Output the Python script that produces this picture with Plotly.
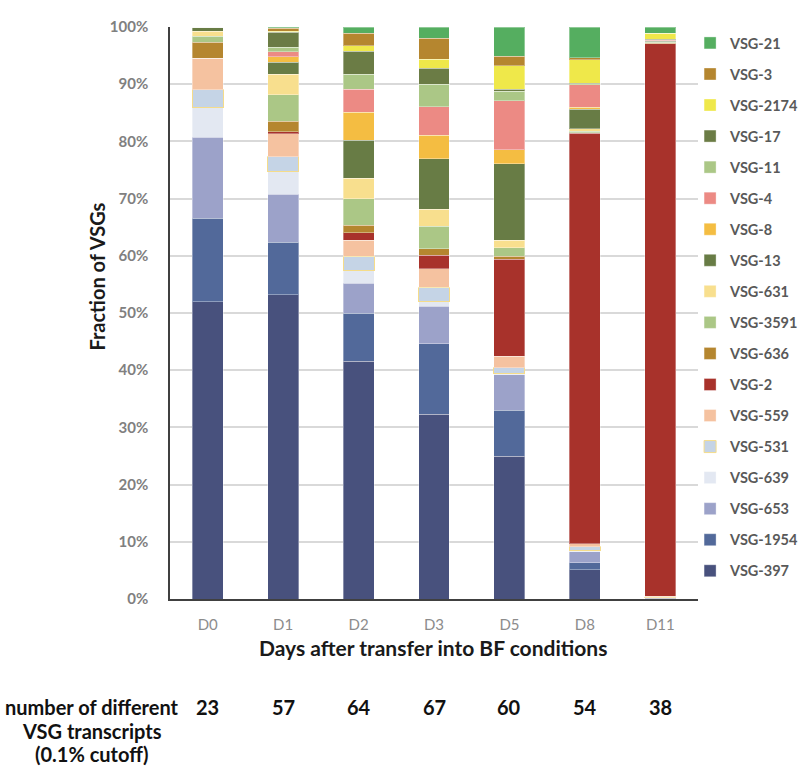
import plotly.graph_objects as go

days = ["D0", "D1", "D2", "D3", "D5", "D8", "D11"]
n_transcripts = [23, 57, 64, 67, 60, 54, 38]
count_label = ["number of different", "VSG transcripts", "(0.1% cutoff)"]

# stacked bottom -> top
vsg_397  = [52.0, 53.2, 41.6, 32.3, 25.0, 5.1, 0.1]
vsg_1954 = [14.6, 9.2, 8.4, 12.3, 8.0, 1.2, 0.0]
vsg_653  = [14.1, 8.4, 5.2, 6.6, 6.2, 2.0, 0.1]
vsg_639  = [5.3, 3.9, 2.3, 0.8, 0.3, 0.1, 0.0]
vsg_531  = [3.0, 2.6, 2.4, 2.5, 0.9, 0.7, 0.1]
vsg_559  = [5.5, 4.0, 2.8, 3.2, 2.0, 0.6, 0.2]
vsg_2    = [0.0, 0.4, 1.3, 2.4, 17.0, 71.7, 96.6]
vsg_636  = [2.8, 1.8, 1.3, 1.1, 0.5, 0.1, 0.1]
vsg_3591 = [1.1, 4.7, 4.7, 4.0, 1.5, 0.3, 0.1]
vsg_631  = [0.9, 3.5, 3.6, 2.9, 1.3, 0.4, 0.1]
vsg_13   = [0.7, 2.1, 6.6, 8.9, 13.4, 3.4, 0.1]
vsg_8    = [0.0, 1.0, 4.9, 4.1, 2.4, 0.4, 0.1]
vsg_4    = [0.0, 0.9, 4.0, 5.0, 8.6, 3.9, 0.1]
vsg_11   = [0.0, 0.8, 2.6, 3.9, 1.7, 0.2, 0.1]
vsg_17   = [0.0, 2.6, 4.1, 2.8, 0.3, 0.1, 0.1]
vsg_2174 = [0.0, 0.2, 0.9, 1.6, 4.1, 4.1, 1.0]
vsg_3    = [0.0, 0.5, 2.2, 3.6, 1.7, 0.3, 0.0]
vsg_21   = [0.0, 0.2, 1.1, 2.0, 5.1, 5.4, 1.1]

series = [
    ("VSG-397", vsg_397, "#48517d"),
    ("VSG-1954", vsg_1954, "#52699a"),
    ("VSG-653", vsg_653, "#9ca2c9"),
    ("VSG-639", vsg_639, "#e3e8f2"),
    ("VSG-531", vsg_531, "#c5d4e6"),
    ("VSG-559", vsg_559, "#f5c2a0"),
    ("VSG-2", vsg_2, "#a8322b"),
    ("VSG-636", vsg_636, "#b5862f"),
    ("VSG-3591", vsg_3591, "#abc786"),
    ("VSG-631", vsg_631, "#f8df8e"),
    ("VSG-13", vsg_13, "#687c45"),
    ("VSG-8", vsg_8, "#f4bd42"),
    ("VSG-4", vsg_4, "#ec8a84"),
    ("VSG-11", vsg_11, "#abc786"),
    ("VSG-17", vsg_17, "#6b7c45"),
    ("VSG-2174", vsg_2174, "#efe84a"),
    ("VSG-3", vsg_3, "#b5862f"),
    ("VSG-21", vsg_21, "#55ae60"),
]

FONT = "Lato"

fig = go.Figure()
n_series = len(series)
for i, (name, vals, col) in enumerate(series):
    line_col = "#f5dc8a" if name == "VSG-531" else "rgba(255,255,255,0.35)"
    fig.add_trace(go.Bar(
        x=days, y=vals, name=name, legendgroup=name,
        legendrank=100 + (n_series - i),
        marker=dict(color=col, line=dict(color=line_col, width=1)),
    ))

fig.update_layout(
    width=800, height=766,
    barmode="stack", bargap=0.59,
    plot_bgcolor="white", paper_bgcolor="white",
    margin=dict(l=170, r=102, t=27, b=167, autoexpand=False),
    font=dict(family=FONT, size=14, color="#7f7f7f"),
    showlegend=True,
    legend=dict(
        traceorder="grouped", tracegroupgap=9.2,
        x=0.985, xanchor="left", y=1.0, yanchor="top",
        bgcolor="rgba(0,0,0,0)", maxheight=740,
        font=dict(family=FONT, size=14.5, color="#595959", weight="bold"),
        itemclick=False,
    ),
    xaxis=dict(
        showline=True, linecolor="#404040", linewidth=1.5,
        ticks="", ticklabelstandoff=11,
        tickfont=dict(size=15, color="#8c8c8c"),
    ),
    yaxis=dict(
        range=[0, 100], dtick=10, ticksuffix="%",
        showline=True, linecolor="#404040", linewidth=1.5,
        showgrid=True, gridcolor="#d9d9d9", gridwidth=1.5,
        ticks="", ticklabelstandoff=17,
        tickfont=dict(size=15, color="#808080", weight="bold"),
    ),
)

# axis titles
fig.add_annotation(x=0.499, xref="paper", y=-0.084, yref="paper",
                   text="Days after transfer into BF conditions", showarrow=False,
                   font=dict(family=FONT, size=21, color="#1a1a1a", weight="bold"),
                   xanchor="center", yanchor="middle")
fig.add_annotation(x=-0.139, xref="paper", y=0.563, yref="paper",
                   text="Fraction of VSGs", showarrow=False, textangle=-90,
                   font=dict(family=FONT, size=20, color="#1a1a1a", weight="bold"),
                   xanchor="center", yanchor="middle")

for d, n in zip(days, n_transcripts):
    fig.add_annotation(x=d, xref="x", y=-0.189, yref="paper",
                       text=str(n), showarrow=False,
                       font=dict(family=FONT, size=20, color="#111111", weight="bold"),
                       xanchor="center", yanchor="middle")

for k, line in enumerate(count_label):
    fig.add_annotation(x=-0.148, xref="paper", y=-0.189, yref="paper",
                       text=line, showarrow=False, align="center",
                       font=dict(family=FONT, size=20, color="#111111", weight="bold"),
                       xanchor="center", yanchor="middle", yshift=-23.5 * k)

fig.write_html("out.html", config={"displayModeBar": False},
               post_script="document.body.style.margin='0';")
